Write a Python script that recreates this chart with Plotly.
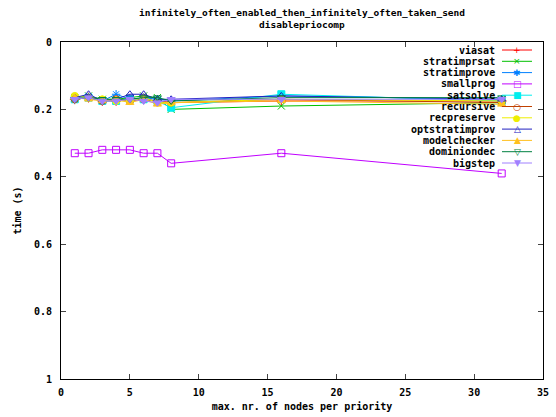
import plotly.graph_objects as go

x_nodes = [1, 2, 3, 4, 5, 6, 7, 8, 16, 32]

series_names = ["viasat", "stratimprsat", "stratimprove", "smallprog", "satsolve",
                "recursive", "recpreserve", "optstratimprov", "modelchecker",
                "dominiondec", "bigstep"]

viasat = [0.17, 0.165, 0.175, 0.175, 0.17, 0.17, 0.175, 0.18, 0.175, 0.175]
stratimprsat = [0.165, 0.16, 0.17, 0.17, 0.165, 0.16, 0.165, 0.2, 0.19, 0.18]
stratimprove = [0.165, 0.165, 0.175, 0.155, 0.17, 0.165, 0.17, 0.175, 0.16, 0.17]
smallprog = [0.33, 0.33, 0.32, 0.32, 0.32, 0.33, 0.33, 0.36, 0.33, 0.39]
satsolve = [0.17, 0.165, 0.175, 0.175, 0.17, 0.17, 0.175, 0.195, 0.155, 0.175]
recursive = [0.17, 0.165, 0.175, 0.17, 0.175, 0.17, 0.175, 0.18, 0.17, 0.18]
recpreserve = [0.16, 0.165, 0.17, 0.175, 0.175, 0.165, 0.18, 0.18, 0.17, 0.175]
optstratimprov = [0.165, 0.155, 0.175, 0.17, 0.155, 0.155, 0.17, 0.17, 0.16, 0.17]
modelchecker = [0.165, 0.17, 0.175, 0.17, 0.18, 0.17, 0.185, 0.18, 0.175, 0.185]
dominiondec = [0.17, 0.165, 0.17, 0.17, 0.17, 0.165, 0.165, 0.175, 0.165, 0.165]
bigstep = [0.17, 0.165, 0.175, 0.175, 0.17, 0.175, 0.18, 0.17, 0.17, 0.17]

values = [viasat, stratimprsat, stratimprove, smallprog, satsolve, recursive,
          recpreserve, optstratimprov, modelchecker, dominiondec, bigstep]

colors = ["#ff0000", "#00c000", "#0080ff", "#c000ff", "#00eeee", "#c04000",
          "#eeee00", "#2020c0", "#ffc020", "#008040", "#a080ff"]
symbols = ["cross-thin", "x-thin", "asterisk", "square-open", "square", "circle-open",
           "circle", "triangle-up-open", "triangle-up", "triangle-down-open", "triangle-down"]
legend_glyphs = ["+", "×", "✱", "□", "■", "○", "●", "△", "▲", "▽", "▼"]

FONT = "DejaVu Sans Mono"

W, H = 556, 417
ML, MR, MT, MB = 61, 13, 42, 38
PW, PH = W - ML - MR, H - MT - MB


def px_x(p):
    return (p - ML) / PW


def px_y(p):
    return (H - MB - p) / PH


fig = go.Figure()
for name, ys, c, s in zip(series_names, values, colors, symbols):
    fig.add_trace(go.Scatter(
        x=x_nodes, y=ys, name=name, mode="lines+markers",
        line=dict(color=c, width=1),
        marker=dict(symbol=s, size=7, color=c, line=dict(color=c, width=1)),
        showlegend=False,
    ))

# gnuplot-style legend: right-aligned label, then sample line with marker
annotations = []
shapes = []
for i, (name, c, g) in enumerate(zip(series_names, colors, legend_glyphs)):
    yy = px_y(50 + 11.3 * i)
    annotations.append(dict(x=px_x(497), y=yy, xref="paper", yref="paper",
                            text="<b>" + name + "</b>", showarrow=False,
                            xanchor="right", yanchor="middle",
                            font=dict(family=FONT, size=10, color="black")))
    shapes.append(dict(type="line", xref="paper", yref="paper",
                       x0=px_x(502), x1=px_x(532), y0=yy, y1=yy,
                       line=dict(color=c, width=1)))
    annotations.append(dict(x=px_x(517), y=yy, xref="paper", yref="paper",
                            text=g, showarrow=False, xanchor="center", yanchor="middle",
                            font=dict(family="DejaVu Sans", size=9, color=c)))

title_lines = ["infinitely_often_enabled_then_infinitely_often_taken_send", "disablepriocomp"]
for i, t in enumerate(title_lines):
    annotations.append(dict(x=0.5, y=px_y(12 + 13 * i), xref="paper", yref="paper",
                            text="<b>" + t + "</b>", showarrow=False,
                            xanchor="center", yanchor="middle",
                            font=dict(family=FONT, size=9.5, color="black")))

fig.update_layout(
    width=W, height=H,
    margin=dict(l=ML, r=MR, t=MT, b=MB, autoexpand=False),
    paper_bgcolor="white", plot_bgcolor="white",
    font=dict(family=FONT, size=10, color="black"),
    annotations=annotations, shapes=shapes,
    showlegend=False,
)
fig.update_xaxes(range=[0, 35], dtick=5, ticks="inside", ticklen=5, mirror="allticks",
                 showline=True, linecolor="black", linewidth=1, showgrid=False, zeroline=False,
                 automargin=False,
                 tickfont=dict(family=FONT, size=10), ticklabelstandoff=4,
                 tickprefix="<b>", ticksuffix="</b>",
                 title=dict(text="<b>max. nr. of nodes per priority</b>", standoff=5,
                            font=dict(family=FONT, size=10)))
fig.update_yaxes(range=[1, 0], dtick=0.2, ticks="inside", ticklen=5, mirror="allticks",
                 showline=True, linecolor="black", linewidth=1, showgrid=False, zeroline=False,
                 automargin=False,
                 tickfont=dict(family=FONT, size=10), ticklabelstandoff=6,
                 tickprefix="<b>", ticksuffix="</b>",
                 title=dict(text="<b>time (s)</b>", standoff=10,
                            font=dict(family=FONT, size=10)))

fig.write_html("out.html")
